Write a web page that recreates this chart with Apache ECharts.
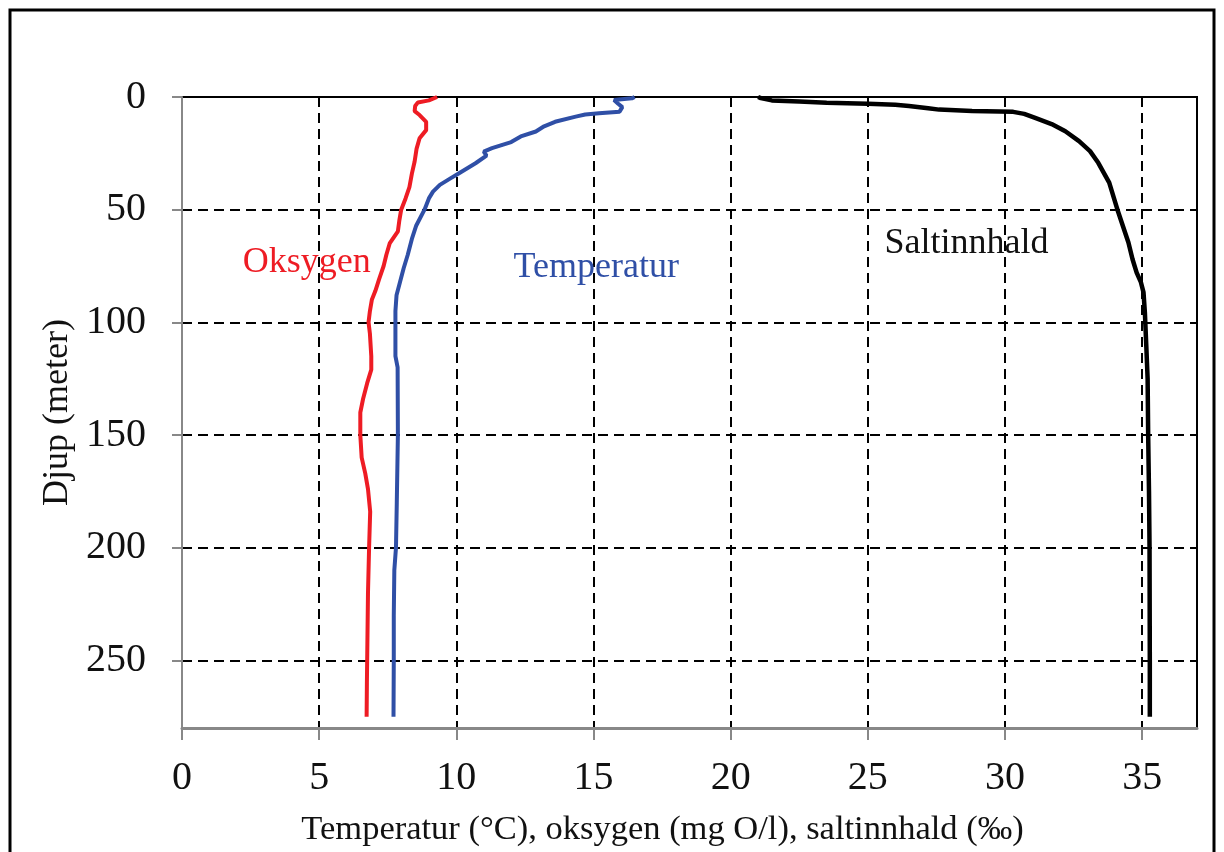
<!DOCTYPE html>
<html>
<head>
    <meta charset="utf-8">
    <title>Djupneprofil</title>
    <script src="https://cdn.jsdelivr.net/npm/echarts@6/dist/echarts.min.js"></script>
    <style>
        html, body { margin: 0; padding: 0; background: #fff; }
    </style>
</head>
<body>
    <div id="main" style="width: 1224px;height:852px;"></div>
<script type="text/javascript">
    var myChart = echarts.init(document.getElementById('main'));

// verdiar lesne av figuren (djup i meter)
var oxyDepth = [0, 0.6, 1.5, 2.4, 4, 6.3, 8, 11, 14.7, 18.3, 23, 28.6, 34, 40, 45, 50, 55, 59.6, 65, 70, 75, 81, 86, 90, 95, 100, 105, 115, 121, 127, 134, 140, 150, 160, 167, 174, 184, 200, 220, 240, 260, 275];
var oxyValue = [9.3, 9.27, 9.0, 8.6, 8.5, 8.48, 8.66, 8.9, 8.9, 8.66, 8.55, 8.48, 8.38, 8.29, 8.15, 7.99, 7.92, 7.87, 7.57, 7.45, 7.35, 7.18, 7.05, 6.92, 6.85, 6.8, 6.85, 6.9, 6.9, 6.75, 6.6, 6.5, 6.5, 6.55, 6.68, 6.78, 6.86, 6.82, 6.78, 6.76, 6.74, 6.73];

var tempDepth = [0, 0.6, 1.3, 3, 4.5, 6.5, 7.2, 7.8, 8.7, 11, 13, 15.3, 17.5, 20, 22.7, 24.2, 26, 29.4, 33.8, 36, 39, 42, 45, 50, 57, 63, 70, 76, 82, 88, 95, 100, 115, 120, 150, 180, 200, 210, 230, 250, 275];
var tempValue = [16.5, 16.4, 15.75, 15.9, 16.05, 15.95, 15.2, 14.7, 14.35, 13.6, 13.2, 12.9, 12.35, 12.0, 11.3, 11.0, 11.1, 10.7, 10.1, 9.8, 9.4, 9.15, 9.0, 8.84, 8.54, 8.38, 8.23, 8.08, 7.95, 7.82, 7.78, 7.78, 7.78, 7.86, 7.87, 7.83, 7.8, 7.74, 7.72, 7.72, 7.71];

var saltDepth = [0, 0.5, 1.5, 2, 2.5, 3, 3.4, 4, 5, 5.6, 6.2, 6.6, 7.5, 9.3, 12, 15.2, 19.6, 24, 29.2, 38, 50, 64.6, 72, 77.9, 82, 86.7, 95.6, 110, 125, 150, 175, 200, 250, 275];
var saltValue = [21.0, 21.1, 21.5, 22.5, 23.5, 25.0, 26.0, 26.5, 27.2, 27.6, 28.8, 30.3, 30.7, 31.1, 31.7, 32.2, 32.7, 33.1, 33.4, 33.8, 34.1, 34.5, 34.65, 34.8, 34.95, 35.05, 35.1, 35.15, 35.2, 35.22, 35.25, 35.27, 35.28, 35.28];

var xTicks = [0, 5, 10, 15, 20, 25, 30, 35];
var yTicks = [0, 50, 100, 150, 200, 250];

var noteNames = ['Oksygen', 'Temperatur', 'Saltinnhald'];
var noteX = [4.55, 15.1, 28.6];
var noteDepth = [73.5, 75.7, 65.2];

var serif = '"Liberation Serif", "DejaVu Serif", serif';

function pairs(xs, ds) {
    var out = [];
    for (var i = 0; i < xs.length; i++) {
        out.push([xs[i], ds[i]]);
    }
    return out;
}

function note(i, color) {
    return {
        symbol: 'circle',
        symbolSize: 0,
        silent: true,
        label: {
            show: true,
            position: 'inside',
            formatter: '{b}',
            color: color,
            fontFamily: serif,
            fontSize: 36
        },
        data: [{ name: noteNames[i], coord: [noteX[i], noteDepth[i]] }]
    };
}

option = {
    animation: false,
    backgroundColor: '#fff',
    graphic: [{
        type: 'rect',
        shape: { x: 10, y: 10, width: 1204, height: 900 },
        style: { fill: 'none', stroke: '#000', lineWidth: 3 },
        silent: true
    }],
    grid: {
        left: 182,
        right: 27,
        top: 97,
        bottom: 123,
        show: true,
        borderColor: '#000',
        borderWidth: 2
    },
    xAxis: {
        type: 'value',
        min: 0,
        max: 37,
        interval: 5,
        name: 'Temperatur (°C), oksygen (mg O/l), saltinnhald (‰)',
        nameLocation: 'middle',
        nameGap: 84,
        nameTextStyle: { fontFamily: serif, fontSize: 34.5, color: '#111', padding: [0, 54, 0, 0] },
        axisLine: { show: true, onZero: false, lineStyle: { color: '#888', width: 3 } },
        axisTick: { show: true, length: 12, customValues: xTicks, lineStyle: { color: '#888', width: 2 } },
        axisLabel: { customValues: xTicks, fontFamily: serif, fontSize: 40, color: '#111', margin: 30 },
        splitLine: { show: true, showMinLine: false, lineStyle: { color: '#000', type: [10, 6], width: 2 } }
    },
    yAxis: {
        type: 'value',
        inverse: true,
        min: 0,
        max: 280,
        interval: 50,
        name: 'Djup (meter)',
        nameLocation: 'middle',
        nameGap: 106,
        nameTextStyle: { fontFamily: serif, fontSize: 36, color: '#111' },
        axisLine: { show: true, onZero: false, lineStyle: { color: '#888', width: 2 } },
        axisTick: { show: true, length: 10, customValues: yTicks, lineStyle: { color: '#888', width: 2 } },
        axisLabel: { customValues: yTicks, fontFamily: serif, fontSize: 40, color: '#111', margin: 36 },
        splitLine: { show: true, showMinLine: false, lineStyle: { color: '#000', type: [10, 6], width: 2 } }
    },
    series: [
        {
            name: 'Oksygen',
            type: 'line',
            showSymbol: false,
            lineStyle: { color: '#ee1c24', width: 4 },
            itemStyle: { color: '#ee1c24' },
            data: pairs(oxyValue, oxyDepth),
            markPoint: note(0, '#ee1c24')
        },
        {
            name: 'Temperatur',
            type: 'line',
            showSymbol: false,
            lineStyle: { color: '#2f4fa6', width: 4 },
            itemStyle: { color: '#2f4fa6' },
            data: pairs(tempValue, tempDepth),
            markPoint: note(1, '#2f4fa6')
        },
        {
            name: 'Saltinnhald',
            type: 'line',
            showSymbol: false,
            lineStyle: { color: '#000', width: 4.5 },
            itemStyle: { color: '#000' },
            data: pairs(saltValue, saltDepth),
            markPoint: note(2, '#111')
        }
    ]
};

    myChart.setOption(option);
</script>
</body>
</html>
